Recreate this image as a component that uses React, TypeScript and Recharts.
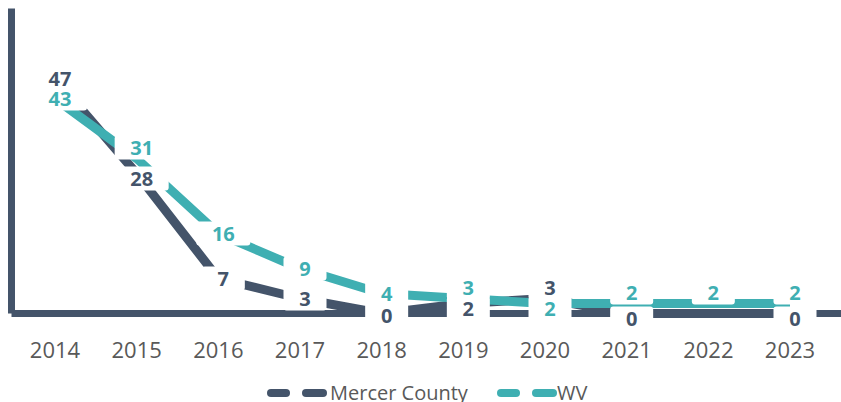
import React from 'react';
import { LineChart, Line, XAxis, YAxis, LabelList } from 'recharts';

const years = ['2014', '2015', '2016', '2017', '2018', '2019', '2020', '2021', '2022', '2023'];
const mercer = [47, 28, 7, 3, 0, 2, 3, 0, 0, 0];
const wv = [43, 31, 16, 9, 4, 3, 2, 2, 2, 2];
const mercerLabelShown = [true, true, true, true, true, true, true, true, false, true];

const DARK = '#44546A';
const TEAL = '#3FAFB2';
const FONT = '"Open Sans", sans-serif';

const data = years.map((year, i) => ({ year, mercer: mercer[i], wv: wv[i] }));

const makeLabel = (own: number[], other: number[], color: string, shown?: boolean[]) => {
  const Label = (props: any) => {
    const { x, y, value, index } = props;
    if (shown && !shown[index]) return null;
    const diff = own[index] - other[index];
    let dy = 0;
    if (Math.abs(diff) <= 3) dy = diff >= 0 ? -11 : 5;
    else if (own[index] === 0) dy = 2;
    const w = String(value).length * 11 + 32;
    const cx = x + 5;
    const cy = y + dy;
    return (
      <g>
        <rect x={cx - w / 2} y={cy - 12} width={w} height={24} rx={3} fill="#fff" />
        <text
          x={cx}
          y={cy}
          textAnchor="middle"
          dominantBaseline="central"
          fontFamily={FONT}
          fontWeight={700}
          fontSize={20}
          fill={color}
        >
          {value}
        </text>
      </g>
    );
  };
  return Label;
};

const MercerLabel = makeLabel(mercer, wv, DARK, mercerLabelShown);
const WvLabel = makeLabel(wv, mercer, TEAL);

const LegendIcon = ({ x, color }: { x: number; color: string }) => (
  <g>
    <rect x={x} y={389} width={23} height={8} rx={4} fill={color} />
    <rect x={x + 35} y={389} width={25} height={8} rx={4} fill={color} />
  </g>
);

export default function App() {
  return (
    <div style={{ position: 'absolute', left: 0, top: 0, width: 841, height: 402, background: '#fff' }}>
      <LineChart
        width={841}
        height={402}
        data={data}
        margin={{ top: 8.5, right: 0, left: 10.5, bottom: 43.5 }}
      >
        <XAxis
          dataKey="year"
          height={45}
          padding={{ left: 43.5, right: 51 }}
          axisLine={{ stroke: DARK, strokeWidth: 7 }}
          tickLine={false}
          tickSize={0}
          tickMargin={29}
          tick={{ fontFamily: FONT, fontSize: 22, fill: '#595959' }}
          interval={0}
        />
        <YAxis
          width={1}
          domain={[0, 61]}
          ticks={[]}
          tick={false}
          tickLine={false}
          axisLine={{ stroke: DARK, strokeWidth: 7 }}
        />
        <Line
          dataKey="mercer"
          name="Mercer County"
          stroke={DARK}
          strokeWidth={9}
          strokeLinejoin="round"
          dot={false}
          activeDot={false}
          isAnimationActive={false}
        />
        <Line
          dataKey="wv"
          name="WV"
          stroke={TEAL}
          strokeWidth={9}
          strokeLinejoin="round"
          dot={false}
          activeDot={false}
          isAnimationActive={false}
        />
        <Line
          dataKey="mercer"
          stroke="none"
          strokeWidth={0}
          dot={false}
          activeDot={false}
          legendType="none"
          isAnimationActive={false}
        >
          <LabelList dataKey="mercer" content={MercerLabel} />
        </Line>
        <Line
          dataKey="wv"
          stroke="none"
          strokeWidth={0}
          dot={false}
          activeDot={false}
          legendType="none"
          isAnimationActive={false}
        >
          <LabelList dataKey="wv" content={WvLabel} />
        </Line>
      </LineChart>
      <svg width={841} height={402} style={{ position: 'absolute', left: 0, top: 0, pointerEvents: 'none' }}>
        <LegendIcon x={267} color={DARK} />
        <text x={330} y={400} fontFamily={FONT} fontSize={20} fill="#595959">
          Mercer County
        </text>
        <LegendIcon x={497} color={TEAL} />
        <text x={557} y={400} fontFamily={FONT} fontSize={20} fill="#595959">
          WV
        </text>
      </svg>
    </div>
  );
}
